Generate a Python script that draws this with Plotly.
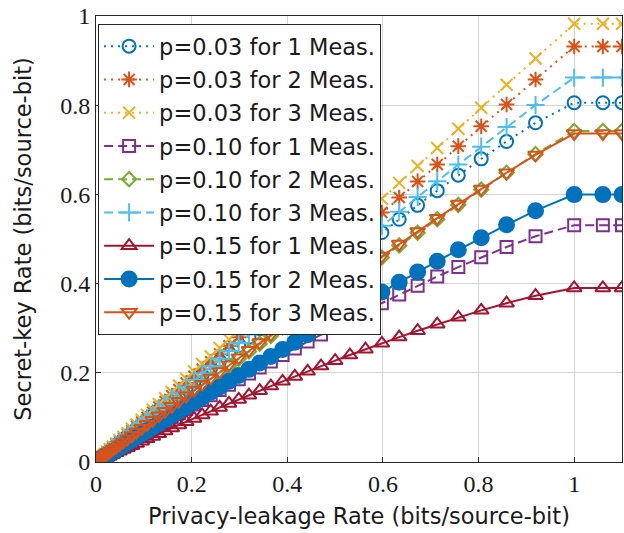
import plotly.graph_objects as go

# Shared privacy-leakage grid (marker x positions)
x_rate = [0, 0.0003, 0.0012, 0.0026, 0.0046, 0.0072, 0.0104, 0.0142, 0.0185, 0.0235,
          0.0290, 0.0352, 0.0420, 0.0493, 0.0573, 0.0659, 0.0752, 0.0851, 0.0956, 0.1068,
          0.1187, 0.1313, 0.1445, 0.1585, 0.1733, 0.1887, 0.2050, 0.2220, 0.2398, 0.2585,
          0.2781, 0.2985, 0.3199, 0.3423, 0.3657, 0.3902, 0.4158, 0.4426, 0.4706, 0.5001,
          0.5310, 0.5635, 0.5978, 0.6341, 0.6726, 0.7136, 0.7577, 0.8056, 0.8586, 0.9192,
          1.0, 1.06, 1.1]

y_p03_m1 = [0, 0.0003, 0.0011, 0.0023, 0.0041, 0.0063, 0.0092, 0.0125, 0.0163, 0.0207,
            0.0256, 0.0310, 0.0370, 0.0434, 0.0505, 0.0581, 0.0663, 0.0750, 0.0842, 0.0941,
            0.1042, 0.1153, 0.1270, 0.1393, 0.1521, 0.1657, 0.1799, 0.1947, 0.2103, 0.2265,
            0.2435, 0.2612, 0.2797, 0.2989, 0.3190, 0.3400, 0.3619, 0.3847, 0.4085, 0.4333,
            0.4591, 0.4861, 0.5146, 0.5443, 0.5755, 0.6084, 0.6431, 0.6797, 0.7187, 0.7605,
            0.8056, 0.8056, 0.8056]
y_p03_m2 = [0, 0.0003, 0.0011, 0.0024, 0.0043, 0.0068, 0.0098, 0.0133, 0.0174, 0.0220,
            0.0272, 0.0330, 0.0394, 0.0462, 0.0537, 0.0618, 0.0705, 0.0798, 0.0897, 0.1002,
            0.1113, 0.1231, 0.1355, 0.1486, 0.1625, 0.1769, 0.1922, 0.2081, 0.2248, 0.2423,
            0.2606, 0.2797, 0.2997, 0.3207, 0.3426, 0.3655, 0.3894, 0.4145, 0.4407, 0.4682,
            0.4971, 0.5274, 0.5594, 0.5932, 0.6291, 0.6672, 0.7082, 0.7526, 0.8017, 0.8576,
            0.9315, 0.9315, 0.9315]
y_p03_m3 = [0, 0.0003, 0.0012, 0.0026, 0.0046, 0.0071, 0.0103, 0.0141, 0.0183, 0.0233,
            0.0287, 0.0348, 0.0416, 0.0488, 0.0567, 0.0652, 0.0744, 0.0842, 0.0946, 0.1057,
            0.1174, 0.1299, 0.1430, 0.1568, 0.1714, 0.1867, 0.2028, 0.2196, 0.2372, 0.2557,
            0.2750, 0.2952, 0.3163, 0.3385, 0.3616, 0.3857, 0.4110, 0.4374, 0.4650, 0.4941,
            0.5245, 0.5565, 0.5903, 0.6259, 0.6638, 0.7040, 0.7472, 0.7941, 0.8458, 0.9047,
            0.9825, 0.9825, 0.9825]
y_p10_m1 = [0, 0.0002, 0.0008, 0.0017, 0.0029, 0.0046, 0.0066, 0.0090, 0.0118, 0.0150,
            0.0185, 0.0224, 0.0268, 0.0314, 0.0365, 0.0420, 0.0479, 0.0542, 0.0609, 0.0680,
            0.0752, 0.0831, 0.0913, 0.0999, 0.1091, 0.1187, 0.1287, 0.1391, 0.1499, 0.1614,
            0.1733, 0.1855, 0.1983, 0.2117, 0.2255, 0.2398, 0.2547, 0.2701, 0.2861, 0.3027,
            0.3199, 0.3377, 0.3561, 0.3753, 0.3952, 0.4158, 0.4371, 0.4591, 0.4821, 0.5061,
            0.5310, 0.5310, 0.5310]
y_p10_m2 = [0, 0.0002, 0.0009, 0.0020, 0.0036, 0.0056, 0.0081, 0.0111, 0.0144, 0.0183,
            0.0226, 0.0274, 0.0328, 0.0384, 0.0447, 0.0514, 0.0586, 0.0663, 0.0745, 0.0833,
            0.0924, 0.1022, 0.1124, 0.1233, 0.1347, 0.1467, 0.1593, 0.1724, 0.1862, 0.2006,
            0.2157, 0.2314, 0.2478, 0.2650, 0.2829, 0.3016, 0.3212, 0.3416, 0.3628, 0.3851,
            0.4084, 0.4328, 0.4586, 0.4856, 0.5141, 0.5443, 0.5765, 0.6108, 0.6484, 0.6902,
            0.7420, 0.7420, 0.7420]
y_p10_m3 = [0, 0.0003, 0.0011, 0.0023, 0.0041, 0.0065, 0.0093, 0.0128, 0.0166, 0.0211,
            0.0260, 0.0316, 0.0377, 0.0443, 0.0515, 0.0592, 0.0675, 0.0764, 0.0858, 0.0959,
            0.1065, 0.1178, 0.1296, 0.1421, 0.1553, 0.1690, 0.1836, 0.1987, 0.2146, 0.2313,
            0.2487, 0.2668, 0.2858, 0.3056, 0.3263, 0.3480, 0.3706, 0.3942, 0.4188, 0.4446,
            0.4716, 0.4999, 0.5297, 0.5611, 0.5942, 0.6293, 0.6669, 0.7070, 0.7510, 0.8002,
            0.8620, 0.8620, 0.8620]
y_p15_m1 = [0, 0.0001, 0.0006, 0.0013, 0.0022, 0.0035, 0.0051, 0.0069, 0.0090, 0.0114,
            0.0141, 0.0171, 0.0205, 0.0240, 0.0279, 0.0321, 0.0366, 0.0414, 0.0466, 0.0520,
            0.0573, 0.0632, 0.0695, 0.0762, 0.0831, 0.0902, 0.0978, 0.1056, 0.1138, 0.1224,
            0.1313, 0.1404, 0.1499, 0.1599, 0.1703, 0.1808, 0.1919, 0.2033, 0.2150, 0.2272,
            0.2398, 0.2528, 0.2661, 0.2801, 0.2943, 0.3089, 0.3243, 0.3400, 0.3561, 0.3729,
            0.3902, 0.3902, 0.3902]
y_p15_m2 = [0, 0.0002, 0.0008, 0.0017, 0.0030, 0.0047, 0.0068, 0.0093, 0.0121, 0.0154,
            0.0190, 0.0231, 0.0276, 0.0323, 0.0376, 0.0432, 0.0493, 0.0558, 0.0627, 0.0701,
            0.0777, 0.0859, 0.0945, 0.1036, 0.1132, 0.1232, 0.1338, 0.1447, 0.1563, 0.1683,
            0.1809, 0.1940, 0.2077, 0.2219, 0.2368, 0.2523, 0.2685, 0.2853, 0.3029, 0.3212,
            0.3402, 0.3602, 0.3812, 0.4031, 0.4260, 0.4503, 0.4758, 0.5029, 0.5319, 0.5635,
            0.5995, 0.5995, 0.5995]
y_p15_m3 = [0, 0.0002, 0.0009, 0.0021, 0.0036, 0.0057, 0.0082, 0.0112, 0.0146, 0.0186,
            0.0229, 0.0278, 0.0332, 0.0389, 0.0453, 0.0521, 0.0594, 0.0672, 0.0755, 0.0844,
            0.0936, 0.1035, 0.1139, 0.1248, 0.1364, 0.1485, 0.1612, 0.1745, 0.1884, 0.2029,
            0.2182, 0.2340, 0.2505, 0.2678, 0.2858, 0.3047, 0.3243, 0.3448, 0.3661, 0.3884,
            0.4117, 0.4360, 0.4617, 0.4886, 0.5168, 0.5467, 0.5784, 0.6120, 0.6485, 0.6886,
            0.7365, 0.7365, 0.7365]

series_names = ["p=0.03 for 1 Meas.", "p=0.03 for 2 Meas.", "p=0.03 for 3 Meas.",
                "p=0.10 for 1 Meas.", "p=0.10 for 2 Meas.", "p=0.10 for 3 Meas.",
                "p=0.15 for 1 Meas.", "p=0.15 for 2 Meas.", "p=0.15 for 3 Meas."]
series_values = [y_p03_m1, y_p03_m2, y_p03_m3, y_p10_m1, y_p10_m2, y_p10_m3,
                 y_p15_m1, y_p15_m2, y_p15_m3]

tick_vals = [0, 0.2, 0.4, 0.6, 0.8, 1]
x_tick_text = ["0", "0.2", "0.4", "0.6", "0.8", "1"]
y_tick_text = ["0", "0.2", "0.4", "0.6", "0.8", "1"]

colors = ["#0072BD", "#D95319", "#EDB120", "#7E2F8E", "#77AC30", "#4DBEEE",
          "#A2142F", "#0072BD", "#D95319"]
symbols = ["circle-open", "asterisk-open", "x-thin-open", "square-open", "diamond-open",
           "cross-thin-open", "triangle-up-open", "circle", "triangle-down-open"]
sizes = [13, 13, 12, 12, 11, 13, 13, 15, 13]
dot = "2px,5px"
dash = "9px,5px"
dashes = [dot, dot, dot, dash, dash, dash, "solid", "solid", "solid"]

fig = go.Figure()
for i, (name, yv) in enumerate(zip(series_names, series_values)):
    fig.add_trace(go.Scatter(
        x=x_rate, y=yv, mode="lines+markers", name=name,
        legendgroup=f"g{i}",
        line=dict(color=colors[i], width=2, dash=dashes[i]),
        marker=dict(symbol=symbols[i], size=sizes[i], color=colors[i],
                    line=dict(color=colors[i], width=2)),
    ))

axis_common = dict(
    showgrid=True, gridcolor="#d4d4d4", gridwidth=1,
    showline=True, linecolor="#262626", linewidth=1, mirror=True,
    ticks="inside", ticklen=5, tickcolor="#262626",
    zeroline=False, automargin=False,
    tickfont=dict(family="Liberation Serif", size=24, color="#1a1a1a"),
    title_font=dict(family="DejaVu Sans", size=22.5, color="#1a1a1a"),
)

fig.update_layout(
    width=624, height=533,
    margin=dict(l=96, r=2, t=16, b=71),
    paper_bgcolor="white", plot_bgcolor="white",
    xaxis=dict(range=[0, 1.1], tickvals=tick_vals, ticktext=x_tick_text,
               title=dict(text="Privacy-leakage Rate (bits/source-bit)", standoff=12),
               **axis_common),
    yaxis=dict(range=[0, 1], tickvals=tick_vals, ticktext=y_tick_text,
               title=dict(text="Secret-key Rate (bits/source-bit)", standoff=22),
               **axis_common),
    legend=dict(x=0.004, y=0.982, xanchor="left", yanchor="top",
                bgcolor="white", bordercolor="#262626", borderwidth=1,
                font=dict(family="DejaVu Sans", size=22.5, color="#1a1a1a"),
                itemwidth=50, tracegroupgap=1),
    showlegend=True,
)

fig.write_html("out.html",
               config={"displayModeBar": False},
               post_script="document.body.style.margin='0px';document.body.style.padding='0px';")
